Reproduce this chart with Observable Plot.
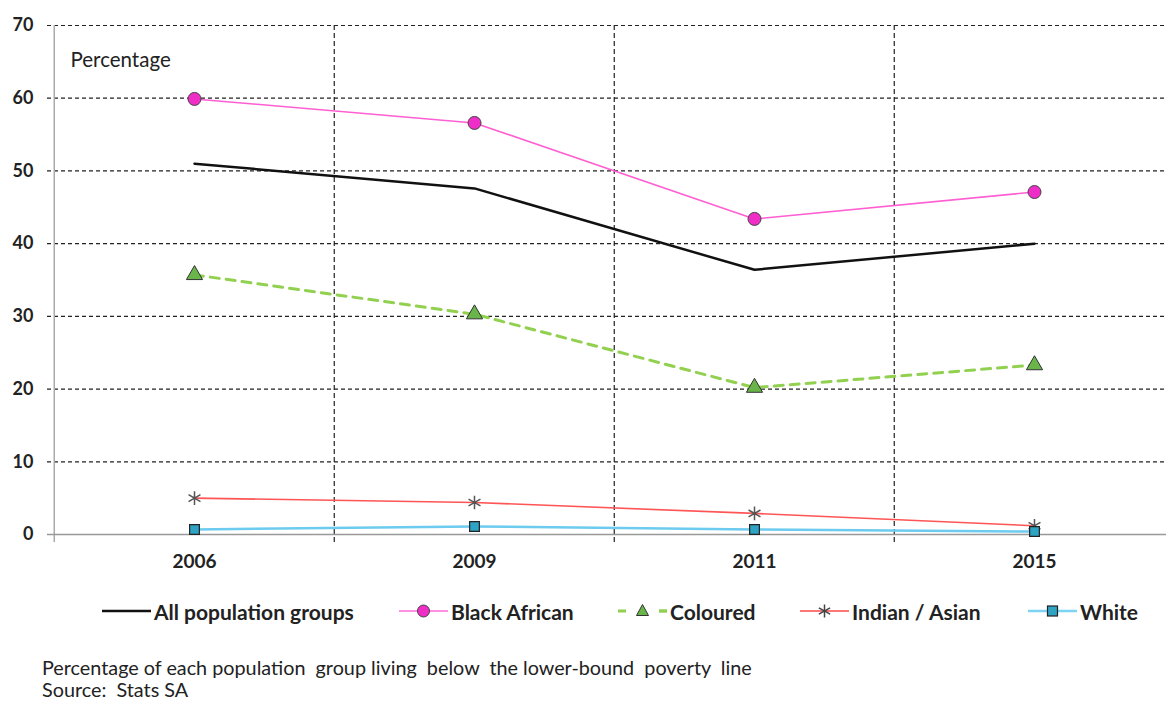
<!DOCTYPE html>
<html>
<head>
<meta charset="utf-8">
<script src="https://cdn.jsdelivr.net/npm/d3@7"></script>
<script src="https://cdn.jsdelivr.net/npm/@observablehq/plot@0.6"></script>
<style>
  html, body { margin: 0; padding: 0; background: #fff; }
  body { width: 1166px; height: 704px; position: relative; overflow: hidden; font-family: Lato, "Open Sans", sans-serif; color: #222; }
  #chart { position: absolute; left: 0; top: 0; }
  .legend-item { position: absolute; top: 600px; height: 22px; display: flex; align-items: center; font-size: 21px; font-weight: bold; color: #222; white-space: nowrap; }
  .legend-item svg { margin-right: 3px; flex: none; }
  #caption { position: absolute; left: 42px; top: 656px; font-size: 19.8px; line-height: 22px; color: #222; }
</style>
</head>
<body>
<div id="chart"></div>
<div id="legend"></div>
<div id="caption">Percentage of each population&nbsp; group living&nbsp; below&nbsp; the lower-bound&nbsp; poverty&nbsp; line<br>Source:&nbsp; Stats SA</div>
<script>
// ---- data ----
const years = ["2006", "2009", "2011", "2015"];
const allGroups = [51.0, 47.6, 36.4, 40.0];
const blackAfrican = [59.9, 56.6, 43.4, 47.1];
const coloured = [35.7, 30.3, 20.2, 23.3];
const indianAsian = [5.0, 4.4, 2.9, 1.2];
const white = [0.7, 1.1, 0.7, 0.4];
const yTicks = [0, 10, 20, 30, 40, 50, 60, 70];
const seriesNames = ["All population groups", "Black African", "Coloured", "Indian / Asian", "White"];

const rows = (vals) => years.map((y, i) => ({year: y, value: vals[i]}));

const xRange = [53, 1175];
const bw = (xRange[1] - xRange[0]) / years.length;

const chart = Plot.plot({
  width: 1166,
  height: 580,
  marginTop: 25,
  marginBottom: 46,
  marginLeft: 53,
  marginRight: 0,
  style: {fontFamily: "Lato, 'Open Sans', sans-serif", fontSize: "16px", color: "#222", background: "#fff"},
  x: {type: "band", domain: years, range: xRange, padding: 0},
  y: {domain: [0, 70]},
  marks: [
    // horizontal gridlines
    Plot.ruleY(yTicks.filter(d => d > 0), {stroke: "#222", strokeWidth: 1.2, strokeDasharray: "4,3", insetLeft: -6}),
    // vertical gridlines between categories
    Plot.ruleX(years.slice(1), {dx: -bw / 2, stroke: "#222", strokeWidth: 1.2, strokeDasharray: "5,3", insetBottom: -8}),
    // y axis line
    Plot.ruleX([years[0]], {dx: -bw / 2, stroke: "#aaa", strokeWidth: 1.5, insetBottom: -8}),
    // zero line
    Plot.ruleY([0], {stroke: "#999", strokeWidth: 1.5, insetLeft: -6}),
    Plot.axisY({ticks: yTicks, tickSize: 0, tickPadding: 20, fontWeight: "bold", fontSize: 18, label: null}),
    Plot.axisX({ticks: years, tickSize: 0, tickPadding: 20, fontWeight: "bold", fontSize: 19, label: null}),
    Plot.text(["Percentage"], {frameAnchor: "top-left", dx: 17, dy: 35, lineAnchor: "middle", fontSize: 20.5, fill: "#222"}),
    // series
    Plot.line(rows(allGroups), {x: "year", y: "value", stroke: "#111", strokeWidth: 2.5}),
    Plot.line(rows(blackAfrican), {x: "year", y: "value", stroke: "#ff5fd2", strokeWidth: 1.6}),
    Plot.dot(rows(blackAfrican), {x: "year", y: "value", r: 6.5, fill: "#ee2ec6", stroke: "#444", strokeWidth: 1}),
    Plot.line(rows(coloured), {x: "year", y: "value", stroke: "#92d050", strokeWidth: 3, strokeDasharray: "9,7"}),
    Plot.dot(rows(coloured), {x: "year", y: "value", symbol: "triangle", r: 6, fill: "#6ab54a", stroke: "#333", strokeWidth: 1}),
    Plot.line(rows(indianAsian), {x: "year", y: "value", stroke: "#ff5555", strokeWidth: 1.6}),
    Plot.dot(rows(indianAsian), {x: "year", y: "value", symbol: "asterisk", r: 6.5, stroke: "#555", strokeWidth: 1.5}),
    Plot.line(rows(white), {x: "year", y: "value", stroke: "#6ccbee", strokeWidth: 2.5}),
    Plot.dot(rows(white), {x: "year", y: "value", symbol: "square", r: 5.5, fill: "#2ea3c4", stroke: "#222", strokeWidth: 1.2})
  ]
});
document.getElementById("chart").appendChild(chart);

// ---- legend ----
const legendLeft = [102, 399, 618, 800, 1028];
const swatches = [
  `<line x1="0" x2="49" y1="11" y2="11" stroke="#111" stroke-width="2.5"/>`,
  `<line x1="0" x2="49" y1="11" y2="11" stroke="#ff8fe0" stroke-width="2"/><circle cx="24.5" cy="11" r="6" fill="#ee2ec6" stroke="#444"/>`,
  `<line x1="0" x2="49" y1="11" y2="11" stroke="#92d050" stroke-width="3" stroke-dasharray="8,33"/><line x1="41" x2="49" y1="11" y2="11" stroke="#92d050" stroke-width="3"/><path d="M24.5,4.5 L30.5,15.5 L18.5,15.5 Z" fill="#6ab54a" stroke="#333"/>`,
  `<line x1="0" x2="49" y1="11" y2="11" stroke="#ff7777" stroke-width="2"/><g stroke="#444" stroke-width="1.5"><line x1="24.5" y1="4.5" x2="24.5" y2="17.5"/><line x1="18.9" y1="7.8" x2="30.1" y2="14.2"/><line x1="18.9" y1="14.2" x2="30.1" y2="7.8"/></g>`,
  `<line x1="0" x2="49" y1="11" y2="11" stroke="#7fd3f2" stroke-width="2.5"/><rect x="19.5" y="6" width="10" height="10" fill="#2ea3c4" stroke="#222" stroke-width="1.2"/>`
];
const legend = document.getElementById("legend");
seriesNames.forEach((name, i) => {
  const item = document.createElement("div");
  item.className = "legend-item";
  item.style.left = legendLeft[i] + "px";
  item.innerHTML = `<svg width="49" height="22">${swatches[i]}</svg><span>${name}</span>`;
  legend.appendChild(item);
});
</script>
</body>
</html>
